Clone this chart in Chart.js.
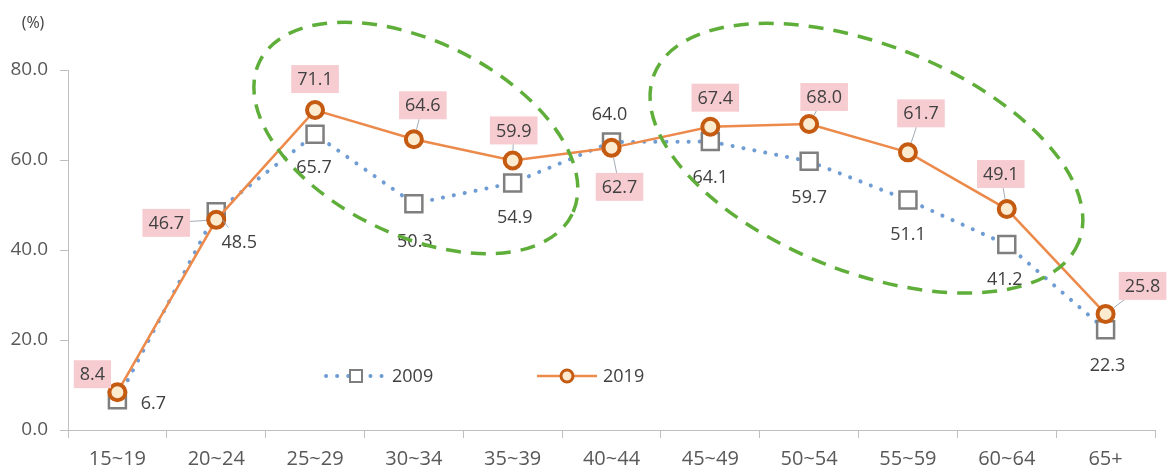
<!DOCTYPE html>
<html><head><meta charset="utf-8">
<script src="https://cdn.jsdelivr.net/npm/chart.js@4/dist/chart.umd.min.js"></script>
<style>html,body{margin:0;padding:0;background:#fff;overflow:hidden}#wrap{width:1173px;height:472px;position:relative}</style>
</head><body><div id="wrap"><canvas id="c" width="1173" height="472"></canvas></div>
<script>
// ---- data ----
const categories = ['15~19','20~24','25~29','30~34','35~39','40~44','45~49','50~54','55~59','60~64','65+'];
const series2009 = [6.7, 48.5, 65.7, 50.3, 54.9, 64.0, 64.1, 59.7, 51.1, 41.2, 22.3];
const series2019 = [8.4, 46.7, 71.1, 64.6, 59.9, 62.7, 67.4, 68.0, 61.7, 49.1, 25.8];
const yTicks = [0, 20, 40, 60, 80];
const seriesNames = ['2009', '2019'];
const unitLabel = '(%)';

// ---- label placement (px offsets from each point) ----
const labelOffset2019 = [[-25,-18],[-50,3],[0,-31],[9,-34],[1,-30],[8,39],[5,-29],[15,-27],[13,-39],[-6,-35],[37,-28]];
const labelOffset2009 = [[36,3],[23,30],[-1,33],[1,37],[2,34],[-2,-28],[0,35],[0,36],[0,34],[-2,34],[2,35]];
const leader2019 = [false,true,false,true,true,true,false,true,true,true,true];
const leader2009 = [false,true,false,false,false,false,false,false,false,false,false];

// highlight ellipses: centre in (category index, value), radii in category widths, rotation deg
const highlights = [
  {cx: 3.02, cy: 64.9, a: 1.76, b: 0.98, rot: 26},
  {cx: 7.58, cy: 60.4, a: 2.31, b: 1.15, rot: 21.5}
];

const FONT = '"Open Sans", "Noto Sans", sans-serif';
const C2019_LINE = '#ec8a4c', C2019_PT = '#c55a11', C2019_FILL = '#fdebd0';
const C2009_LINE = 'rgba(95,145,205,0.9)', C2009_PT = '#7f7f7f';
const LABEL_BG = '#f7ccd1';

function labelBox(ctx, text, x, y, withBg) {
  ctx.font = '18px ' + FONT;
  const w = ctx.measureText(text).width;
  const box = {l: x - w/2 - 6, r: x + w/2 + 6, t: y - 14, b: y + 14};
  if (withBg) { ctx.fillStyle = LABEL_BG; ctx.fillRect(box.l, box.t, box.r - box.l, box.b - box.t); }
  ctx.fillStyle = '#404040'; ctx.textAlign = 'center'; ctx.textBaseline = 'middle';
  ctx.fillText(text, x, y + 1);
  return box;
}
function leader(ctx, px, py, box, r, color) {
  const cx = (box.l + box.r)/2, cy = (box.t + box.b)/2;
  const dx = cx - px, dy = cy - py, d = Math.hypot(dx, dy);
  if (d < 1) return;
  const ux = dx/d, uy = dy/d;
  const hw = (box.r - box.l)/2, hh = (box.b - box.t)/2;
  const tx = Math.abs(ux) > 1e-6 ? hw/Math.abs(ux) : Infinity;
  const ty = Math.abs(uy) > 1e-6 ? hh/Math.abs(uy) : Infinity;
  const tEnd = d - Math.min(tx, ty);
  const tStart = r + 1;
  if (tEnd - tStart < 3) return;
  ctx.save(); ctx.strokeStyle = color; ctx.lineWidth = 1;
  ctx.beginPath(); ctx.moveTo(px + ux*tStart, py + uy*tStart); ctx.lineTo(px + ux*tEnd, py + uy*tEnd); ctx.stroke();
  ctx.restore();
}

const overlay = {
  id: 'overlay',
  afterDatasetsDraw(chart) {
    const ctx = chart.ctx, xs = chart.scales.x, ys = chart.scales.y;
    const m2009 = chart.getDatasetMeta(0), m2019 = chart.getDatasetMeta(1);
    ctx.save();
    series2009.forEach((v, i) => {
      const p = m2009.data[i];
      const o = labelOffset2009[i];
      const b = labelBox(ctx, v.toFixed(1), p.x + o[0], p.y + o[1], false);
      if (leader2009[i]) leader(ctx, p.x, p.y, b, 9, 'rgba(120,170,210,0.8)');
    });
    series2019.forEach((v, i) => {
      const p = m2019.data[i];
      const o = labelOffset2019[i];
      const b = labelBox(ctx, v.toFixed(1), p.x + o[0], p.y + o[1], true);
      if (leader2019[i]) leader(ctx, p.x, p.y, b, 9, 'rgba(140,150,165,0.8)');
    });
    // highlight ellipses
    const cw = xs.getPixelForValue(1) - xs.getPixelForValue(0);
    ctx.strokeStyle = '#5fae3a'; ctx.lineWidth = 3.5; ctx.setLineDash([15, 10]); ctx.lineCap = 'butt';
    highlights.forEach(h => {
      const cx = xs.getPixelForValue(0) + h.cx * cw;
      const cy = ys.getPixelForValue(h.cy);
      ctx.beginPath();
      ctx.ellipse(cx, cy, h.a * cw, h.b * cw, h.rot * Math.PI / 180, 0, Math.PI * 2);
      ctx.stroke();
    });
    ctx.setLineDash([]);
    // legend
    const ly = 376;
    const items = [
      {x: 326, ds: chart.data.datasets[0], name: seriesNames[0]},
      {x: 537, ds: chart.data.datasets[1], name: seriesNames[1]}
    ];
    items.forEach((it, k) => {
      ctx.save();
      ctx.strokeStyle = it.ds.borderColor; ctx.lineWidth = it.ds.borderWidth;
      ctx.lineCap = it.ds.borderCapStyle || 'butt';
      ctx.setLineDash(it.ds.borderDash || []);
      ctx.beginPath(); ctx.moveTo(it.x, ly); ctx.lineTo(it.x + 60, ly); ctx.stroke();
      ctx.restore();
      ctx.save();
      ctx.fillStyle = it.ds.pointBackgroundColor; ctx.strokeStyle = it.ds.pointBorderColor;
      ctx.lineWidth = k === 0 ? 2 : 3;
      ctx.beginPath();
      if (k === 0) ctx.rect(it.x + 24, ly - 6, 12, 12); else ctx.arc(it.x + 30, ly, 6, 0, Math.PI*2);
      ctx.fill(); ctx.stroke();
      ctx.restore();
      ctx.font = '18px ' + FONT; ctx.fillStyle = '#404040'; ctx.textAlign = 'left'; ctx.textBaseline = 'middle';
      ctx.fillText(it.name, it.x + 66, ly + 1);
    });
    ctx.font = '16px ' + FONT; ctx.fillStyle = '#404040'; ctx.textAlign = 'center'; ctx.textBaseline = 'middle';
    ctx.fillText(unitLabel, 33, 23);
    ctx.restore();
  }
};

new Chart(document.getElementById('c'), {
  type: 'line',
  data: {
    labels: categories,
    datasets: [
      {
        label: seriesNames[0], data: series2009, order: 1,
        borderColor: C2009_LINE, borderWidth: 4, borderDash: [0.1, 11], borderCapStyle: 'round',
        pointStyle: 'rect', pointRadius: 12, pointBorderWidth: 2.5,
        pointBorderColor: C2009_PT, pointBackgroundColor: '#ffffff', tension: 0, fill: false
      },
      {
        label: seriesNames[1], data: series2019, order: 0,
        borderColor: C2019_LINE, borderWidth: 2.5,
        pointStyle: 'circle', pointRadius: 8, pointBorderWidth: 4,
        pointBorderColor: C2019_PT, pointBackgroundColor: C2019_FILL, tension: 0, fill: false
      }
    ]
  },
  options: {
    responsive: false, animation: false, devicePixelRatio: 1,
    layout: {padding: {left: 0, top: 70, right: 18, bottom: 0}},
    plugins: {legend: {display: false}, tooltip: {enabled: false}},
    scales: {
      x: {
        offset: true,
        grid: {offset: true, drawOnChartArea: false, drawTicks: true, tickLength: 8, color: '#bfbfbf'},
        border: {color: '#bfbfbf', width: 1},
        ticks: {color: '#595959', font: {family: FONT, size: 20}, padding: 9, maxRotation: 0, autoSkip: false},
        afterFit(s) { s.height = 42; }
      },
      y: {
        min: yTicks[0], max: yTicks[yTicks.length - 1],
        afterBuildTicks(s) { s.ticks = yTicks.map(v => ({value: v})); },
        grid: {drawOnChartArea: false, drawTicks: true, tickLength: 8, color: '#bfbfbf'},
        border: {color: '#bfbfbf', width: 1},
        ticks: {color: '#595959', font: {family: FONT, size: 19}, padding: 12,
                callback: v => Number(v).toFixed(1)},
        afterFit(s) { s.width = 68; }
      }
    }
  },
  plugins: [overlay]
});
</script></body></html>
